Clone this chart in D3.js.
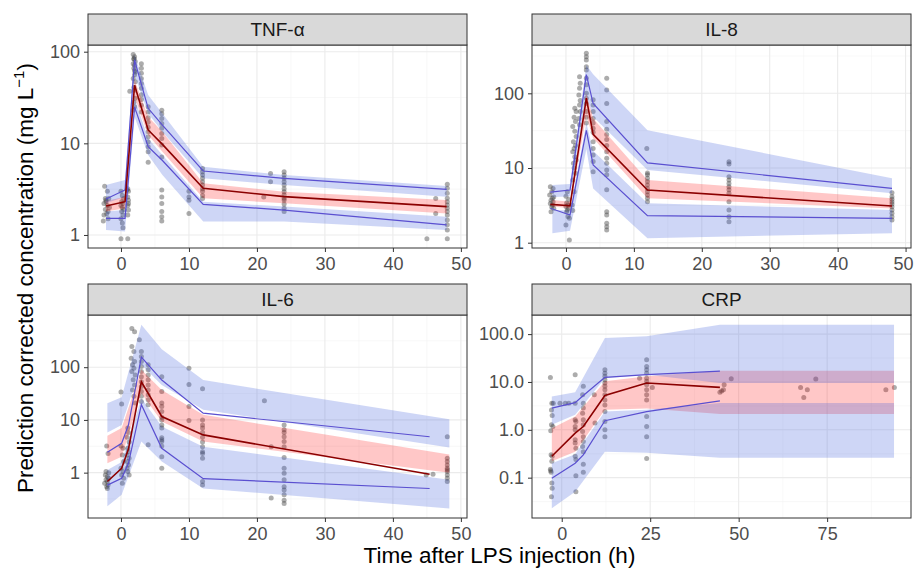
<!DOCTYPE html>
<meta charset="utf-8">
<style>
  body { margin: 0; background: #fff; }
  svg { font-family: "Liberation Sans", Arial, sans-serif; }
  .grid-major { stroke: #ebebeb; stroke-width: 1.1px; }
  .grid-minor { stroke: #f3f3f3; stroke-width: 0.6px; }
  .axis text { fill: #4d4d4d; font-size: 18px; }
  .axis line { stroke: #333; }
  .obs { fill: #3a3a3a; fill-opacity: 0.42; }
</style>
<body>
<svg width="914" height="568"></svg>
<script src="https://d3js.org/d3.v7.min.js"></script>
<script>
// facet names --------------------------------------------------------------
const facetNames = ["TNF-α", "IL-8", "IL-6", "CRP"];

// TNF-alpha ------------------------------------------------------------------
const tnfLineT = [-2.2, 0.6, 2.0, 4.0, 6.1, 12.1, 24, 47.9];
const tnfP05 = [1.52, 1.52, 25, 9.2, 6.5, 2.16, 1.87, 1.29];
const tnfP50 = [2.07, 2.31, 43, 14.0, 9.75, 3.23, 2.62, 2.04];
const tnfP95 = [2.47, 3.1, 81, 24.1, 15.8, 4.99, 4.15, 3.15];
const tnfBandT = [-2.2, 0.6, 2.0, 4.0, 6.1, 12.1, 24, 47.9];
const tnfHiHi = [3.51, 3.98, 92, 33.6, 21.2, 5.56, 4.51, 3.42];
const tnfHiLo = [2.22, 2.62, 56, 21.2, 13.4, 4.15, 3.51, 2.62];
const tnfMedHi = [2.35, 2.62, 49, 19.5, 13.4, 3.66, 2.97, 2.41];
const tnfMedLo = [1.8, 1.96, 32, 12.3, 8.1, 2.51, 2.22, 1.72];
const tnfLoHi = [1.8, 1.87, 31, 11.3, 7.45, 2.31, 2.04, 1.58];
const tnfLoLo = [1.13, 1.09, 19.5, 7.45, 4.51, 1.4, 1.4, 1.13];
const tnfObs = [
  [-2.4,3.4],[-2.0,3.0],[-2.3,2.5],[-1.8,2.5],[-2.2,2.3],[-2.5,2.2],[-2.0,2.1],[-1.7,2.0],[-2.3,1.9],[-2.1,1.7],[-2.5,1.65],[-1.9,1.5],[-2.6,1.42],[-2.2,2.4],[-1.9,1.8],
  [0,3.0],[0.2,2.7],[0.4,2.5],[0.1,2.3],[0.3,2.2],[0,2.1],[0.2,2.0],[0.4,1.9],[0.1,1.8],[0.3,1.65],[0,1.5],[0.2,1.35],[0.3,1.2],[0,0.91],
  [1.0,3.2],[1.1,3.0],[1.0,2.6],[1.1,2.4],[1.0,2.1],[1.1,1.87],[1.0,1.65],[1.0,0.91],[0.9,3.1],[1.1,2.2],
  [1.8,93],[2.0,88],[1.9,83],[2.1,78],[1.8,74],[2.0,71],[1.9,66],[2.1,60],[2.0,56],[1.8,51],[2.1,47],[1.9,41],[2.0,38],[1.3,37],[2.1,31],[1.9,28],[2.0,25],[1.8,23],[1.9,84],[2.0,62],
  [3,74],[3,66],[3,58],[3,51],[3,45],[3,40],[3,34],[3,30],[3,26],[3,22],
  [4,25],[4,22],[4,19],[4,17],[4,15],[4,13.4],[4,11.8],[4,10.4],[4,9.2],[4,8.1],[4,6.2],
  [6,23],[6,21],[6,18.7],[6,16.5],[6,14.6],[6,12.8],[6,11.3],[6,9.6],[6,7.1],[6,3.1],[6,2.6],[6,2.2],[6,1.8],[6,1.58],[6,1.42],
  [10,3.0],[10,2.6],[10,2.4],[10,1.72],
  [12,5.3],[12,4.9],[12,4.5],[12,4.15],[12,3.8],[12,3.5],[12,3.2],[12,3.0],[12,2.7],[12,2.5],
  [21,2.6],[22,4.7],[22,3.8],
  [24,4.9],[24,4.5],[24,4.15],[24,3.8],[24,3.5],[24,3.2],[24,2.97],[24,2.73],[24,2.51],[24,2.41],[24,2.18],[24,1.96],[24,1.8],
  [45,0.91],[46.3,2.5],[46.3,1.72],
  [48,3.57],[48,3.23],[48,2.85],[48,2.51],[48,2.31],[48,2.12],[48,1.96],[48,1.8],[48,1.65],[48,1.46],[48,1.29],[48,1.13],[48,0.91]
];

// IL-8 -----------------------------------------------------------------------
const il8LineT = [-2.3, 0.6, 3.0, 4.0, 12, 48];
const il8P05 = [2.89, 2.35, 32, 11.0, 2.3, 2.12];
const il8P50 = [3.26, 3.13, 86, 28.2, 5.08, 3.1];
const il8P95 = [4.75, 5.07, 178, 73, 11.7, 5.35];
const il8BandT = [-2.0, 0.6, 3.0, 4.0, 12, 48];
const il8HiHi = [5.9, 6.1, 240, 180, 32, 7.3];
const il8HiLo = [4.1, 4.15, 95, 48.7, 9.4, 4.6];
const il8MedHi = [3.73, 3.54, 100, 46, 6.9, 3.93];
const il8MedLo = [3.05, 2.89, 50, 25, 3.93, 2.88];
const il8LoHi = [2.75, 2.7, 40, 17, 3.37, 2.74];
const il8LoLo = [1.34, 1.45, 18, 5.3, 1.15, 1.34];
const il8Obs = [
  [-2.3,5.6],[-1.9,5.3],[-2.1,4.8],[-2.4,4.35],[-1.8,4.1],[-2.0,3.93],[-2.2,3.7],[-1.9,3.54],[-2.3,3.35],[-2.0,3.2],[-2.1,3.0],[-1.8,2.89],[-2.2,2.6],
  [0.2,4.8],[0,4.2],[0.4,3.8],[0.1,3.4],[0.3,3.2],[0,3.05],[0.4,2.89],[0.2,2.75],[0.1,2.6],[0.3,2.25],[0.5,2.12],[0,1.72],[0.5,1.09],
  [1.3,63],[1.5,57],[1.2,48],[1.4,42],[1.0,36],[1.3,31],[1.5,26.5],[1.1,22.5],[1.4,20],[1.2,18.3],[1.0,16.5],[1.3,14.2],[1.5,12.8],[1.1,11.6],[1.2,10],[1.4,8.5],[1.0,6.9],[1.2,4.8],[0.9,3.2],[1.0,2.7],
  [2.0,167],[2.1,136],[2.0,117],[1.9,95],[2.1,80],[2.0,70],[2.1,57],[1.9,46],[2.0,38],
  [3,343],[3,309],[3,279],[3,227],[3,205],[3,159],[3,130],[3,100],[3,86],[3,73],[3,57],[3,48],[3,40],
  [4,82],[4,70],[4,57],[4,46],[4,40],[4,34],[4,30],[4,22.5],[4,18.3],[4,14.9],[4,12.2],[4,8.9],
  [6,159],[6,111],[6,73],[6,42],[6,33],[6,28],[6,24],[6,20],[6,16.5],[6,13.5],[6,11.6],[6,9.4],[6,8.1],[6,5.1],[6,2.6],[6,2.35],[6,1.82],[6,1.64],[6,1.48],
  [11.9,18.3],[12,8.6],[12,8.1],[12,7.3],[12,6.6],[12,5.9],[12,5.3],[12,4.8],[12,4.35],[12,3.93],[12,3.54],
  [24,12.1],[24,11.3],[24,7.65],[24,6.9],[24,6.2],[24,5.6],[24,5.1],[24,4.6],[24,3.54],[24,2.74],[24,2.23],[24,1.91],
  [48,4.67],[48,4.13],[48,3.81],[48,3.54],[48,3.3],[48,3.03],[48,2.74],[48,2.47],[48,2.23],[48,2.01]
];

// IL-6 -----------------------------------------------------------------------
const il6LineT = [-2.0, 0.1, 1.1, 3.0, 6.0, 12.1, 45.4];
const il6P05 = [0.58, 0.78, 1.5, 19.5, 2.9, 0.77, 0.5];
const il6P50 = [0.68, 1.21, 2.8, 53, 11.6, 5.2, 0.93];
const il6P95 = [2.43, 3.6, 8, 155, 57, 13.4, 4.8];
const il6BandT = [-2.0, 0.1, 3.0, 6.0, 12.1, 48.3];
const il6HiHi = [20.7, 27, 636, 220, 57, 10.3];
const il6HiLo = [5.8, 8.0, 111, 46, 15.6, 3.0];
const il6MedHi = [5.0, 7.0, 89, 37, 12.5, 2.2];
const il6MedLo = [1.5, 2.0, 32, 9.3, 3.9, 1.0];
const il6LoHi = [1.12, 1.6, 25.7, 7.5, 3.1, 0.73];
const il6LoLo = [0.23, 0.38, 3.9, 1.62, 0.5, 0.21];
const il6Obs = [
  [-2.1,3.2],[-1.9,2.3],[-2.3,0.9],[-2.0,0.84],[-1.8,0.78],[-2.2,0.73],[-2.0,0.68],[-2.4,0.63],[-1.9,0.58],[-2.1,0.54],[-2.0,0.5],[-2.2,1.05],[-1.8,1.0],
  [0,34],[0.1,20],[0.3,2.9],[0.2,2.17],[0.4,1.62],[0,1.21],[0.3,1.05],[0.1,0.9],[0.4,0.78],[0.2,0.63],[0,3.2],
  [1.0,7.0],[1.1,5.8],[0.9,4.7],[1.2,3.8],[1.0,2.9],[1.1,2.5],[0.9,2.17],[1.2,1.87],[1.0,1.62],[1.1,1.4],[0.9,1.21],[1.0,1.05],[1.2,0.9],
  [1.6,540],[2.0,470],[2.7,330],
  [1.6,246],[1.9,198],[1.5,148],[2.0,128],[1.7,111],[1.9,96],[1.6,83],[2.1,71],[1.8,58],[2.0,46],[1.7,37],[1.9,28],[2.1,21],
  [3,198],[3,160],[3,128],[3,103],[3,83],[3,66],[3,53],[3,43],[3,34.5],[3,28],[3,22.3],
  [4,111],[4,89],[4,71],[4,58],[4,46],[4,37],[4,30],[4,24],[4,19.3],[4,3.4],
  [6,66],[6,34.5],[6,21],[6,18],[6,14.4],[6,11.2],[6,10],[6,8],[6,7],[6,4.6],[6,4.2],[6,3.9],[6,3.2],[6,2.0],[6,1.21],
  [10,96],[10,47],[10,17.9],[10,9.7],
  [12,39],[12,10],[12,8],[12,7],[12,5.8],[12,4.7],[12,3.8],[12,3.1],[12,2.5],[12,2.3],[12,1.87],[12,0.68],[12,0.58],
  [21.1,23],[22.1,3.1],[22.1,0.33],
  [24,8.0],[24,6.5],[24,5.8],[24,4.8],[24,3.9],[24,3.1],[24,1.93],[24,1.21],[24,0.97],[24,0.73],[24,0.54],[24,0.47],[24,0.38],[24,0.3],[24,0.26],
  [44.9,0.9],[45.9,0.93],
  [48,4.8],[48,1.87],[48,1.62],[48,1.4],[48,1.21],[48,1.13],[48,1.05],[48,0.9],[48,0.78],[48,0.68]
];

// CRP ------------------------------------------------------------------------
const crpLineT = [-2.8, 3.8, 6.1, 12.2, 24, 44.7];
const crpP05 = [0.097, 0.2, 0.3, 1.55, 2.4, 4.04];
const crpP50 = [0.28, 0.85, 1.17, 5.2, 9.5, 7.7];
const crpP95 = [2.85, 3.7, 5.2, 12.5, 14.2, 16.8];
const crpBandT = [-2.8, 3.8, 12.2, 24, 44.7, 93.9];
const crpHiHi = [4.98, 6.1, 83, 90, 157, 157];
const crpHiLo = [1.27, 2.06, 12, 14.2, 9.5, 9.5];
const crpMedHi = [1.08, 1.9, 10.3, 13.1, 17.1, 17.1];
const crpMedLo = [0.22, 0.35, 2.62, 2.8, 2.13, 2.13];
const crpLoHi = [0.2, 0.31, 2.4, 2.62, 3.62, 3.62];
const crpLoLo = [0.023, 0.051, 0.35, 0.33, 0.26, 0.26];
const crpObs = [
  [-3.2,12.4],[-2.8,3.6],[-2.4,3.6],[-2.9,2.6],[-2.7,2.0],[-2.9,1.27],[-2.5,1.17],[-3.1,0.96],[-3.0,0.3],[-2.7,0.28],[-2.8,0.22],[-3.2,0.15],[-3.0,0.13],[-2.8,0.077],[-2.7,0.06],[-2.9,0.04],[-3.1,0.14],
  [-0.5,3.6],[1.0,3.6],[2.0,3.6],
  [3.8,14.2],[3.8,3.6],[3.8,1.62],[4.0,1.5],[3.8,1.17],[3.8,1.0],[3.8,0.62],[3.8,0.53],[4.0,0.41],[3.8,0.28],[4.0,0.24],[4.0,0.11],[4.0,0.051],
  [6.1,8.1],[5.9,5.4],[6.1,3.6],[6.1,2.84],[5.9,2.23],[6.1,1.62],[6.1,1.27],[5.9,0.92],[6.1,0.72],[6.1,0.57],[5.9,0.45],[6.1,0.35],[6.1,0.19],[6.1,0.13],
  [9.2,5.4],[9.4,1.38],
  [12.2,18],[12.2,15.3],[12.2,13.1],[12.2,11.1],[12.2,9.5],[12.2,8.1],[12.2,6.9],[12.2,5.4],[12.2,4.2],[12.2,3.3],[12.2,2.4],[12.2,1.5],[12.2,1.0],[12.2,0.72],
  [22.0,12],
  [24,29],[24,21],[24,18],[24,15.3],[24,12],[24,10.3],[24,8.7],[24,6.9],[24,5.4],[24,4.2],[24,1.9],[24,1.17],[24,0.72],[24,0.25],
  [25.6,7.7],
  [44.7,6.1],[45.7,6.9],[45.9,8.7],[45.2,6.5],[47.9,11.7],
  [67.5,7.7],[69.4,6.9],[68.4,4.75],[71.8,11.5],[91.6,6.9],[94,7.7]
];

// axis limits / breaks per facet ---------------------------------------------
const xLimits = [[-4.85, 50.9], [-5.0, 50.8], [-4.85, 50.9], [-8.4, 98.7]];
const yLimits = [[0.721, 118.3], [0.849, 443.6], [0.138, 977], [0.01435, 251]];
const xBreaks = [[0,10,20,30,40,50], [0,10,20,30,40,50], [0,10,20,30,40,50], [0,25,50,75]];
const yBreaks = [[1,10,100], [1,10,100], [1,10,100], [0.1,1,10,100]];

const facets = [
  {obs: tnfObs, lineT: tnfLineT, p05: tnfP05, p50: tnfP50, p95: tnfP95, bandT: tnfBandT,
   lo: [tnfLoLo, tnfLoHi], med: [tnfMedLo, tnfMedHi], hi: [tnfHiLo, tnfHiHi]},
  {obs: il8Obs, lineT: il8LineT, p05: il8P05, p50: il8P50, p95: il8P95, bandT: il8BandT,
   lo: [il8LoLo, il8LoHi], med: [il8MedLo, il8MedHi], hi: [il8HiLo, il8HiHi]},
  {obs: il6Obs, lineT: il6LineT, p05: il6P05, p50: il6P50, p95: il6P95, bandT: il6BandT,
   lo: [il6LoLo, il6LoHi], med: [il6MedLo, il6MedHi], hi: [il6HiLo, il6HiHi]},
  {obs: crpObs, lineT: crpLineT, p05: crpP05, p50: crpP50, p95: crpP95, bandT: crpBandT,
   lo: [crpLoLo, crpLoHi], med: [crpMedLo, crpMedHi], hi: [crpHiLo, crpHiHi]}
];

// panel placement
const layout = [
  {x0: 88, x1: 467, top: 14},
  {x0: 532, x1: 911, top: 14},
  {x0: 88, x1: 467, top: 284},
  {x0: 532, x1: 911, top: 284}
];
const stripH = 31, plotH = 203;
const W = 914;

const svg = d3.select("svg");

facets.forEach((f, i) => {
  const L = layout[i];
  const top = L.top + stripH, bottom = top + plotH;
  const x = d3.scaleLinear().domain(xLimits[i]).range([L.x0, L.x1]);
  const y = d3.scaleLog().domain(yLimits[i]).range([bottom, top]);
  const g = svg.append("g");

  svg.append("clipPath").attr("id", "clip" + i)
    .append("rect").attr("x", L.x0).attr("y", top)
    .attr("width", L.x1 - L.x0).attr("height", plotH);

  g.append("rect").attr("x", L.x0).attr("y", top)
    .attr("width", L.x1 - L.x0).attr("height", plotH).attr("fill", "#fff");

  // grid --------------------------------------------------------------------
  const xb = xBreaks[i], step = xb[1] - xb[0];
  const xMinor = d3.range(xb[0] - step / 2, xLimits[i][1], step)
    .filter(v => v > xLimits[i][0] && v < xLimits[i][1]);
  const e0 = Math.floor(Math.log10(yLimits[i][0])), e1 = Math.ceil(Math.log10(yLimits[i][1]));
  const yMinor = d3.range(e0, e1).map(e => Math.pow(10, e + 0.5))
    .filter(v => v > yLimits[i][0] && v < yLimits[i][1]);

  g.selectAll(".gxm").data(xMinor).enter().append("line").attr("class", "grid-minor")
    .attr("x1", d => x(d)).attr("x2", d => x(d)).attr("y1", top).attr("y2", bottom);
  g.selectAll(".gym").data(yMinor).enter().append("line").attr("class", "grid-minor")
    .attr("y1", d => y(d)).attr("y2", d => y(d)).attr("x1", L.x0).attr("x2", L.x1);
  g.selectAll(".gx").data(xb).enter().append("line").attr("class", "grid-major")
    .attr("x1", d => x(d)).attr("x2", d => x(d)).attr("y1", top).attr("y2", bottom);
  g.selectAll(".gy").data(yBreaks[i]).enter().append("line").attr("class", "grid-major")
    .attr("y1", d => y(d)).attr("y2", d => y(d)).attr("x1", L.x0).attr("x2", L.x1);

  const inner = g.append("g").attr("clip-path", `url(#clip${i})`);

  // observations
  inner.selectAll("circle").data(f.obs).enter().append("circle")
    .attr("class", "obs")
    .attr("cx", d => x(d[0])).attr("cy", d => y(d[1])).attr("r", 2.5);

  // simulated prediction bands
  const band = (lo, hi) => d3.area()
    .x((d, k) => x(f.bandT[k]))
    .y0((d, k) => y(lo[k]))
    .y1((d, k) => y(hi[k]))(f.bandT);
  inner.append("path").attr("d", band(f.med[0], f.med[1]))
    .attr("fill", "rgb(255,0,0)").attr("fill-opacity", 0.22);
  inner.append("path").attr("d", band(f.lo[0], f.lo[1]))
    .attr("fill", "rgb(60,90,220)").attr("fill-opacity", 0.25);
  inner.append("path").attr("d", band(f.hi[0], f.hi[1]))
    .attr("fill", "rgb(60,90,220)").attr("fill-opacity", 0.25);

  // observed percentiles
  const line = vals => d3.line()
    .x((d, k) => x(f.lineT[k]))
    .y((d, k) => y(vals[k]))(f.lineT);
  inner.append("path").attr("d", line(f.p05)).attr("fill", "none")
    .attr("stroke", "#5a4fd0").attr("stroke-width", 1.2);
  inner.append("path").attr("d", line(f.p95)).attr("fill", "none")
    .attr("stroke", "#5a4fd0").attr("stroke-width", 1.2);
  inner.append("path").attr("d", line(f.p50)).attr("fill", "none")
    .attr("stroke", "#8b0000").attr("stroke-width", 1.6);

  // border + strip
  g.append("rect").attr("x", L.x0).attr("y", top)
    .attr("width", L.x1 - L.x0).attr("height", plotH)
    .attr("fill", "none").attr("stroke", "#333").attr("stroke-width", 1);
  g.append("rect").attr("x", L.x0).attr("y", L.top)
    .attr("width", L.x1 - L.x0).attr("height", stripH)
    .attr("fill", "#d9d9d9").attr("stroke", "#333").attr("stroke-width", 1);
  g.append("text").attr("x", (L.x0 + L.x1) / 2).attr("y", L.top + stripH / 2 + 6.5)
    .attr("text-anchor", "middle").attr("font-size", 19).attr("fill", "#1a1a1a")
    .text(facetNames[i]);

  // axes
  const fmt = i === 3 ? d3.format(".1f") : d3.format("d");
  g.append("g").attr("class", "axis").attr("transform", `translate(0,${bottom})`)
    .call(d3.axisBottom(x).tickValues(xb).tickSize(4).tickPadding(5))
    .call(a => a.select(".domain").remove())
    // keep a label that would run past the right edge inside the page
    .call(a => a.selectAll(".tick text").each(function (d) {
      const over = x(d) + this.getBBox().width / 2 - (W - 1);
      if (over > 0) d3.select(this).attr("dx", -over);
    }));
  g.append("g").attr("class", "axis").attr("transform", `translate(${L.x0},0)`)
    .call(d3.axisLeft(y).tickValues(yBreaks[i]).tickFormat(fmt).tickSize(4).tickPadding(4))
    .call(a => a.select(".domain").remove());
});

// axis titles
svg.append("text").attr("x", 499.5).attr("y", 563)
  .attr("text-anchor", "middle").attr("font-size", 22.5).attr("fill", "#000")
  .text("Time after LPS injection (h)");

const yt = svg.append("text").attr("transform", "translate(33,278) rotate(-90)")
  .attr("text-anchor", "middle").attr("font-size", 22.5).attr("fill", "#000");
yt.append("tspan").text("Prediction corrected concentration (mg L");
yt.append("tspan").attr("font-size", 15).attr("dy", -9).text("−1");
yt.append("tspan").attr("dy", 9).text(")");
</script>
